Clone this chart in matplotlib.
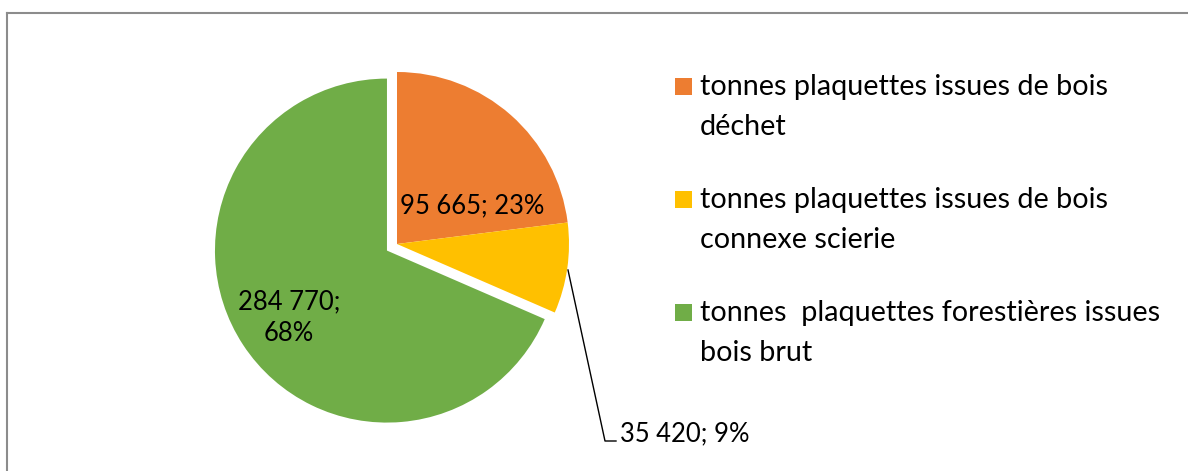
import matplotlib
matplotlib.use("Agg")
import matplotlib.pyplot as plt
from matplotlib.patches import Rectangle
from matplotlib.lines import Line2D

# ---- data ----
categories = [
    "tonnes plaquettes issues de bois\ndéchet",
    "tonnes plaquettes issues de bois\nconnexe scierie",
    "tonnes  plaquettes forestières issues\nbois brut",
]
values = [95665, 35420, 284770]
value_labels = ["95 665; 23%", "35 420; 9%", "284 770;\n68%"]
colors = ["#ED7D31", "#FFC000", "#70AD47"]

W, H = 1188, 471
fig = plt.figure(figsize=(W / 100, H / 100), dpi=100)
ax = fig.add_axes([0, 0, 1, 1])

FONT = "Lato"

def Y(py):
    return H - py

cx, cy, R = 397, Y(244), 172
wedges, _ = ax.pie(values, colors=colors, startangle=90, counterclock=False,
                   radius=R, center=(cx, cy), explode=[0, 0, 12],
                   wedgeprops=dict(linewidth=0))
ax.set_xlim(0, W)
ax.set_ylim(0, H)
ax.set_aspect("auto")
ax.axis("off")

# border (top and left only)
ax.add_line(Line2D([7, W], [Y(13), Y(13)], color="#8C8C8C", lw=1.5))
ax.add_line(Line2D([7, 7], [Y(13), 0], color="#8C8C8C", lw=1.5))

renderer = fig.canvas.get_renderer()

def fit_size(s, target_px, base=18):
    t = ax.text(0, 0, s, fontsize=base, family=FONT)
    w = t.get_window_extent(renderer).width
    t.remove()
    return base * target_px / w

fs_leg = fit_size("tonnes plaquettes issues de bois", 407)
fs_lab = fit_size("95 665; 23%", 145)

# data labels
ax.text(400, Y(213), value_labels[0], fontsize=fs_lab, family=FONT,
        ha="left", va="baseline", color="black")
ax.text(620, Y(441), value_labels[1], fontsize=fs_lab, family=FONT,
        ha="left", va="baseline", color="black")
g_lines = value_labels[2].split("\n")
for i, ln in enumerate(g_lines):
    ax.text(289, Y(309 + 32 * i), ln, fontsize=fs_lab, family=FONT,
            ha="center", va="baseline", color="black")

# leader line for the small slice
ax.add_line(Line2D([568, 605, 616], [Y(270), Y(441), Y(441)], color="black", lw=1))

# legend
entry_base = [95, 208, 321]
for cat, col, b in zip(categories, colors, entry_base):
    ax.add_patch(Rectangle((675, Y(b)), 17, 17, facecolor=col, edgecolor="none"))
    for j, ln in enumerate(cat.split("\n")):
        ax.text(700, Y(b + 40 * j), ln, fontsize=fs_leg, family=FONT,
                ha="left", va="baseline", color="black")

fig.savefig("out.png", dpi=100, facecolor="white")
